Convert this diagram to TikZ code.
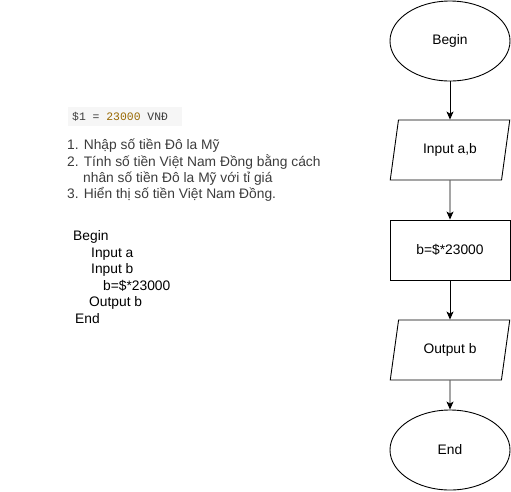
\documentclass[tikz,border=0pt]{standalone}
\usepackage{fontspec}
\setmainfont{Liberation Sans}
\setmonofont{Liberation Mono}
\usetikzlibrary{shapes.geometric,arrows.meta}
\definecolor{listgray}{RGB}{60,60,60}
\definecolor{codenum}{RGB}{152,104,1}
\definecolor{codebg}{RGB}{246,246,246}
\newcommand{\labelsize}{\fontsize{13.8}{16}\selectfont}
\begin{document}
\begin{tikzpicture}[x=1pt,y=-1pt,
  term/.style={ellipse,draw,line width=0.9pt,minimum width=120pt,minimum height=80pt,inner sep=0pt,font=\labelsize},
  io/.style={trapezium,draw,line width=0.9pt,trapezium left angle=71.565,trapezium right angle=108.435,trapezium stretches=true,minimum width=120pt,minimum height=60pt,inner sep=0pt,font=\labelsize},
  proc/.style={rectangle,draw,line width=0.9pt,minimum width=120pt,minimum height=60pt,inner sep=0pt,font=\labelsize},
  flow/.style={line width=0.9pt,-{Stealth[length=8pt,width=7pt,inset=2pt]}},
  txt/.style={anchor=base west,inner sep=0pt,text=listgray,font=\labelsize},
  pc/.style={anchor=base west,inner sep=0pt,text=black,font=\labelsize}]
\useasboundingbox (0,0) rectangle (511,491);
% flowchart
\node[term] (begin) at (450,41) {Begin};
\node[io] (inp) at (450,150) {Input a,b};
\node[proc] (calc) at (450,250) {b=\$*23000};
\node[io] (outp) at (450,350) {Output b};
\node[term] (end) at (450,450) {End};
\draw[flow] (begin) -- (inp);
\draw[flow] (inp) -- (calc);
\draw[flow] (calc) -- (outp);
\draw[flow] (outp) -- (end);
% code line
\fill[codebg] (68,107) rectangle (182,126);
\node[anchor=base west,inner sep=0pt,text=listgray,font=\ttfamily\fontsize{11.4}{13}\selectfont] (code) at (72,120) {\$1 = \textcolor{codenum}{23000} VNĐ};
% list
\node[txt] (l1) at (67,149) {1. Nhập số tiền Đô la Mỹ};
\node[txt] (l2) at (67,166) {2. Tính số tiền Việt Nam Đồng bằng cách};
\node[txt] (l2b) at (83,182) {nhân số tiền Đô la Mỹ với tỉ giá};
\node[txt] (l3) at (67,198) {3. Hiển thị số tiền Việt Nam Đồng.};
% pseudocode
\node[pc] (p1) at (73,240) {Begin};
\node[pc] (p2) at (91,257) {Input a};
\node[pc] (p3) at (91,273) {Input b};
\node[pc] (p4) at (103,290) {b=\$*23000};
\node[pc] (p5) at (89,306) {Output b};
\node[pc] (p6) at (75,323) {End};
\end{tikzpicture}
\end{document}
